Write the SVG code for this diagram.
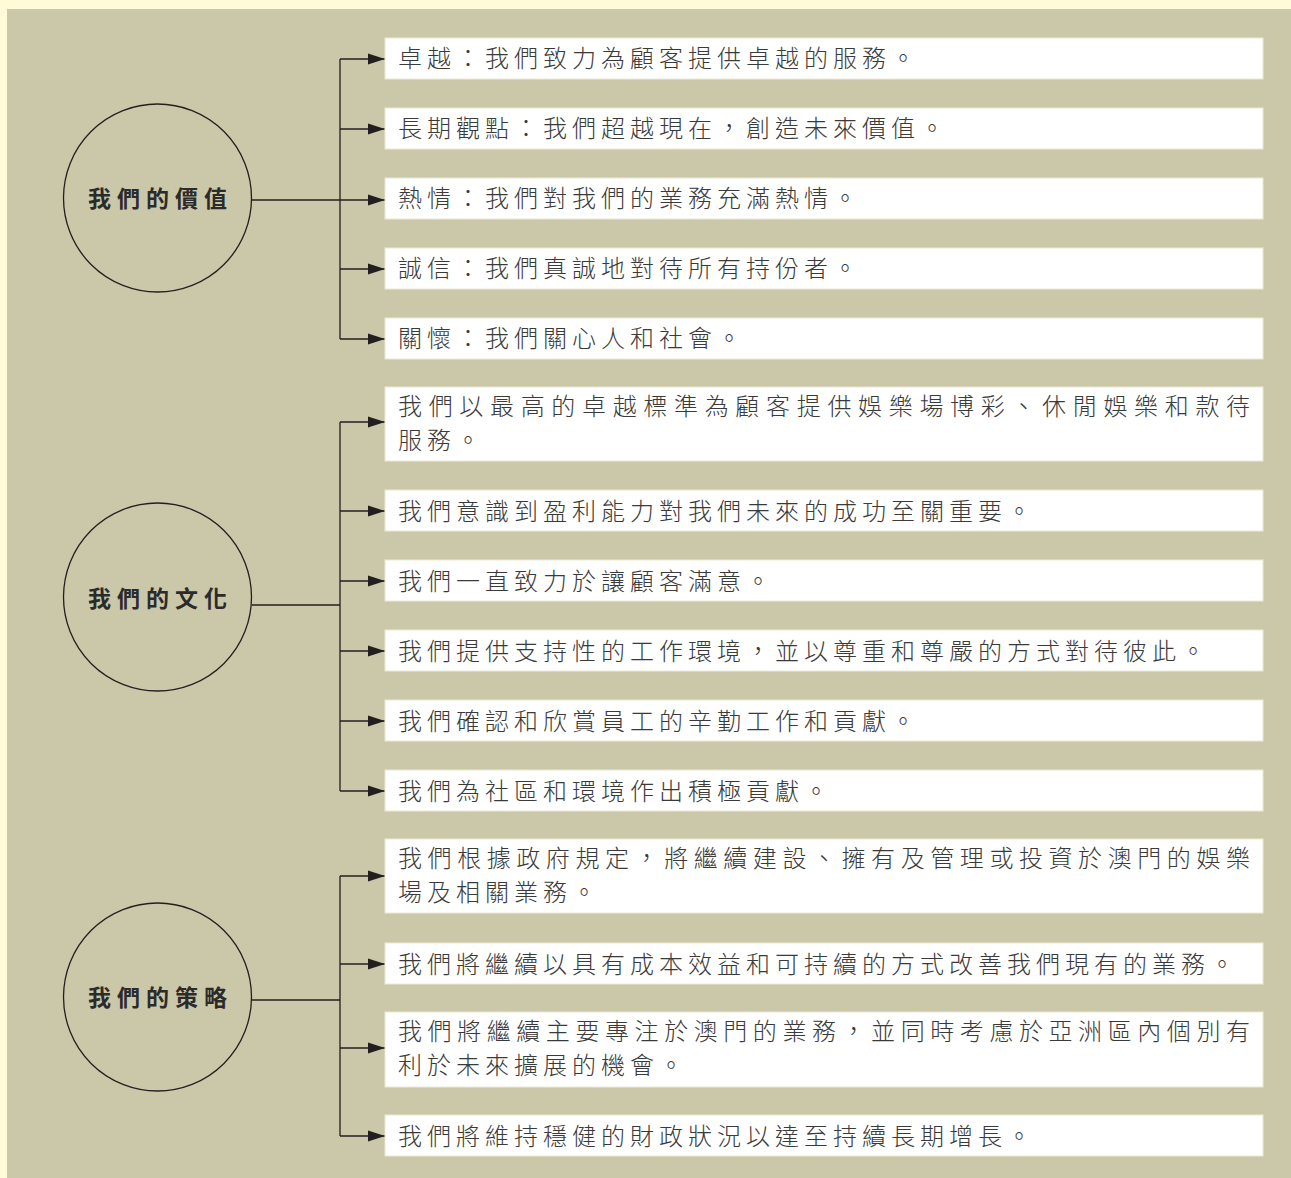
<svg xmlns="http://www.w3.org/2000/svg" width="1291" height="1178" viewBox="0 0 1291 1178">
<defs>
<style>
.bg{fill:#fffbd8}
.panel{fill:#cbc7a9}
.box{fill:#ffffff;stroke:#ecead6;stroke-width:1}
.circ{fill:none;stroke:#231f20;stroke-width:1.3}
.ln{fill:none;stroke:#231f20;stroke-width:1.3}
.t{font-family:"Noto Sans CJK TC","Noto Sans CJK SC",sans-serif;font-size:24px;font-weight:300;fill:#3a3a3a;letter-spacing:5px}
.h{font-family:"Noto Sans CJK TC","Noto Sans CJK SC",sans-serif;font-size:23px;font-weight:700;fill:#2b2b2b;letter-spacing:6px}
</style>
<marker id="arr" markerUnits="userSpaceOnUse" markerWidth="18" markerHeight="12" refX="17" refY="6" orient="auto">
<path d="M0,0.5 L17,6 L0,11.5 Z" fill="#231f20"/>
</marker>
</defs>
<rect class="bg" x="0" y="0" width="1291" height="1178"/>
<rect class="panel" x="7" y="9" width="1284" height="1169"/>

<g id="connectors">
<path class="ln" d="M252,200 H385" marker-end="url(#arr)"/>
<path class="ln" d="M340,59 V339"/>
<path class="ln" d="M340,59 H385" marker-end="url(#arr)"/>
<path class="ln" d="M340,129 H385" marker-end="url(#arr)"/>
<path class="ln" d="M340,269 H385" marker-end="url(#arr)"/>
<path class="ln" d="M340,339 H385" marker-end="url(#arr)"/>

<path class="ln" d="M252,605 H340"/>
<path class="ln" d="M340,422 V791"/>
<path class="ln" d="M340,422 H385" marker-end="url(#arr)"/>
<path class="ln" d="M340,511 H385" marker-end="url(#arr)"/>
<path class="ln" d="M340,581 H385" marker-end="url(#arr)"/>
<path class="ln" d="M340,651 H385" marker-end="url(#arr)"/>
<path class="ln" d="M340,721 H385" marker-end="url(#arr)"/>
<path class="ln" d="M340,791 H385" marker-end="url(#arr)"/>

<path class="ln" d="M252,1000 H340"/>
<path class="ln" d="M340,876 V1136"/>
<path class="ln" d="M340,876 H385" marker-end="url(#arr)"/>
<path class="ln" d="M340,964 H385" marker-end="url(#arr)"/>
<path class="ln" d="M340,1048 H385" marker-end="url(#arr)"/>
<path class="ln" d="M340,1136 H385" marker-end="url(#arr)"/>
</g>

<g id="values">
<circle class="circ" cx="157.5" cy="198" r="94"/>
<text class="h" x="88" y="207">我們的價值</text>
</g>
<g id="culture">
<circle class="circ" cx="157.5" cy="597" r="94"/>
<text class="h" x="88" y="607">我們的文化</text>
</g>
<g id="strategy">
<circle class="circ" cx="157.5" cy="997" r="94"/>
<text class="h" x="88" y="1006">我們的策略</text>
</g>

<g id="v1"><rect class="box" x="385" y="38" width="878" height="41"/><text class="t" x="398" y="67">卓越：我們致力為顧客提供卓越的服務。</text></g>
<g id="v2"><rect class="box" x="385" y="108" width="878" height="41"/><text class="t" x="398" y="137">長期觀點：我們超越現在，創造未來價值。</text></g>
<g id="v3"><rect class="box" x="385" y="178" width="878" height="41"/><text class="t" x="398" y="207">熱情：我們對我們的業務充滿熱情。</text></g>
<g id="v4"><rect class="box" x="385" y="248" width="878" height="41"/><text class="t" x="398" y="277">誠信：我們真誠地對待所有持份者。</text></g>
<g id="v5"><rect class="box" x="385" y="318" width="878" height="41"/><text class="t" x="398" y="347">關懷：我們關心人和社會。</text></g>

<g id="c1"><rect class="box" x="385" y="387" width="878" height="74"/><text class="t" x="398" y="415" style="letter-spacing:6.67px">我們以最高的卓越標準為顧客提供娛樂場博彩、休閒娛樂和款待</text><text class="t" x="398" y="448.5">服務。</text></g>
<g id="c2"><rect class="box" x="385" y="490" width="878" height="41"/><text class="t" x="398" y="520">我們意識到盈利能力對我們未來的成功至關重要。</text></g>
<g id="c3"><rect class="box" x="385" y="560" width="878" height="41"/><text class="t" x="398" y="590">我們一直致力於讓顧客滿意。</text></g>
<g id="c4"><rect class="box" x="385" y="630" width="878" height="41"/><text class="t" x="398" y="660">我們提供支持性的工作環境，並以尊重和尊嚴的方式對待彼此。</text></g>
<g id="c5"><rect class="box" x="385" y="700" width="878" height="41"/><text class="t" x="398" y="730">我們確認和欣賞員工的辛勤工作和貢獻。</text></g>
<g id="c6"><rect class="box" x="385" y="770" width="878" height="41"/><text class="t" x="398" y="800">我們為社區和環境作出積極貢獻。</text></g>

<g id="s1"><rect class="box" x="385" y="839" width="878" height="74"/><text class="t" x="398" y="867" style="letter-spacing:5.57px">我們根據政府規定，將繼續建設、擁有及管理或投資於澳門的娛樂</text><text class="t" x="398" y="900.5">場及相關業務。</text></g>
<g id="s2"><rect class="box" x="385" y="943" width="878" height="41"/><text class="t" x="398" y="973">我們將繼續以具有成本效益和可持續的方式改善我們現有的業務。</text></g>
<g id="s3"><rect class="box" x="385" y="1012" width="878" height="75"/><text class="t" x="398" y="1040" style="letter-spacing:5.57px">我們將繼續主要專注於澳門的業務，並同時考慮於亞洲區內個別有</text><text class="t" x="398" y="1073.5">利於未來擴展的機會。</text></g>
<g id="s4"><rect class="box" x="385" y="1115" width="878" height="41"/><text class="t" x="398" y="1145">我們將維持穩健的財政狀況以達至持續長期增長。</text></g>
</svg>
